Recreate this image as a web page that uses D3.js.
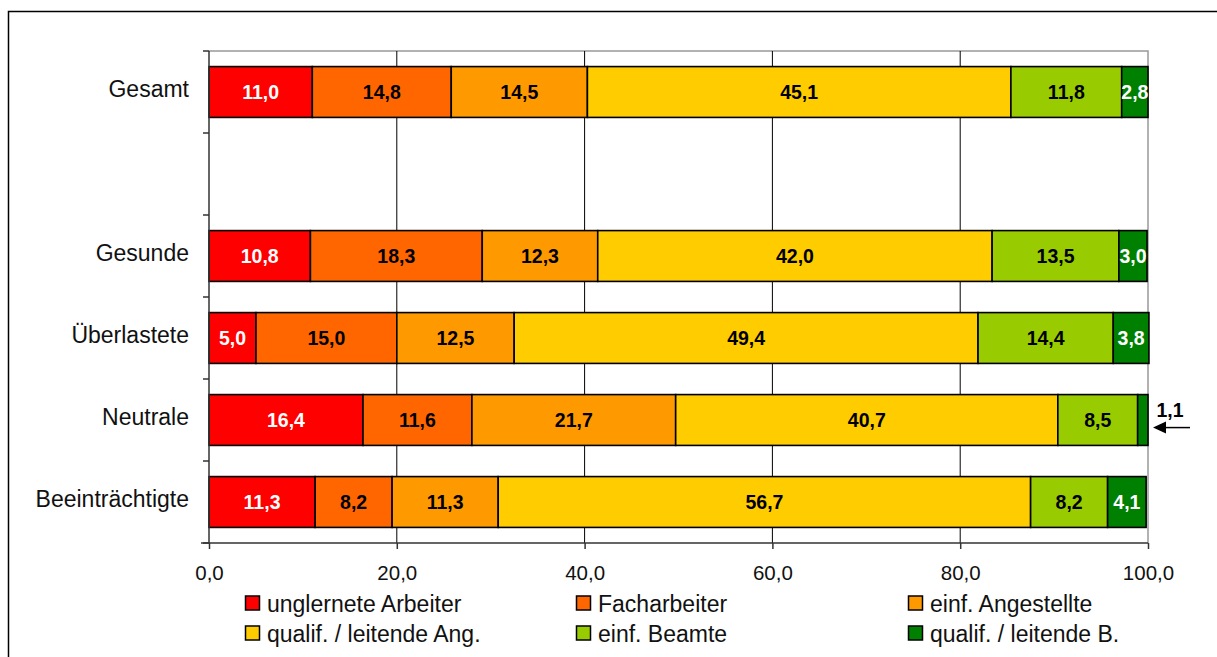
<!DOCTYPE html>
<html><head><meta charset="utf-8">
<script src="https://cdn.jsdelivr.net/npm/d3@7"></script>
<style>body{margin:0;background:#fff}svg{display:block;font-family:"Liberation Sans",Arial,sans-serif}</style>
</head><body><svg id="c" width="1217" height="657"></svg>
<script>
// Rows top to bottom; the blank row separates the total from the groups
const categories = ["Gesamt", "", "Gesunde", "Überlastete", "Neutrale", "Beeinträchtigte"];
const seriesNames = ["unglernete Arbeiter", "Facharbeiter", "einf. Angestellte", "qualif. / leitende Ang.", "einf. Beamte", "qualif. / leitende B."];
const seriesColors = ["#FF0000", "#FF6600", "#FF9900", "#FFCC00", "#99CC00", "#008000"];
const labelColors = ["#fff", "#000", "#000", "#000", "#000", "#fff"];
const values = {
  "Gesamt":          [11.0, 14.8, 14.5, 45.1, 11.8, 2.8],
  "Gesunde":         [10.8, 18.3, 12.3, 42.0, 13.5, 3.0],
  "Überlastete":     [5.0, 15.0, 12.5, 49.4, 14.4, 3.8],
  "Neutrale":        [16.4, 11.6, 21.7, 40.7, 8.5, 1.1],
  "Beeinträchtigte": [11.3, 8.2, 11.3, 56.7, 8.2, 4.1]
};
const xTicks = [0, 20, 40, 60, 80, 100];

const svg = d3.select("#c");
const fmt = v => d3.format(".1f")(v).replace(".", ",");

// outer frame
svg.append("rect").attr("x", 8.5).attr("y", 11.5).attr("width", 1220).attr("height", 660)
  .attr("fill", "none").attr("stroke", "#000").attr("stroke-width", 1.5);

const pLeft = 209, pRight = 1148, pTop = 51, pBottom = 543;
const x = d3.scaleLinear().domain([0, 100]).range([pLeft, pRight]);
const y = d3.scaleBand().domain(categories).range([pTop, pBottom]).paddingInner(0.38).paddingOuter(0.19);

// plot border (top and right in gray)
svg.append("path").attr("d", `M${pLeft},${pTop}H${pRight}V${pBottom}`)
  .attr("fill", "none").attr("stroke", "#999").attr("stroke-width", 1.5);

// vertical gridlines
svg.append("g").selectAll("line").data(xTicks.slice(1, -1)).join("line")
  .attr("x1", d => x(d)).attr("x2", d => x(d)).attr("y1", pTop).attr("y2", pBottom)
  .attr("stroke", "#000").attr("stroke-width", 1);

// stacked segments
const rows = categories.filter(c => values[c]).map(c => {
  let acc = 0;
  return values[c].map((v, i) => { const s = {cat: c, i, v, x0: acc, x1: acc + v}; acc += v; return s; });
});
const seg = svg.append("g").selectAll("g").data(rows.flat()).join("g");
seg.append("rect")
  .attr("x", d => x(d.x0)).attr("width", d => x(d.x1) - x(d.x0))
  .attr("y", d => y(d.cat)).attr("height", y.bandwidth())
  .attr("fill", d => seriesColors[d.i]).attr("stroke", "#000").attr("stroke-width", 1.6);
seg.filter(d => d.v >= 2).append("text")
  .attr("x", d => (x(d.x0) + x(d.x1)) / 2).attr("y", d => y(d.cat) + y.bandwidth() / 2)
  .attr("dy", "0.36em").attr("text-anchor", "middle")
  .attr("font-size", 19.5).attr("font-weight", "bold")
  .attr("fill", d => labelColors[d.i]).text(d => fmt(d.v));

// small segment labelled outside with an arrow
const small = rows.flat().filter(d => d.v < 2);
const outside = svg.append("g").selectAll("g").data(small).join("g");
outside.append("text")
  .attr("x", d => x(d.x1) + 22).attr("y", d => y(d.cat) + 22)
  .attr("text-anchor", "middle").attr("font-size", 19.5).attr("font-weight", "bold")
  .text(d => fmt(d.v));
outside.append("line")
  .attr("x1", d => x(d.x1) + 42).attr("x2", d => x(d.x1) + 10)
  .attr("y1", d => y(d.cat) + 33).attr("y2", d => y(d.cat) + 33)
  .attr("stroke", "#000").attr("stroke-width", 1.5);
outside.append("path")
  .attr("d", d => { const ax = x(d.x1) + 5, ay = y(d.cat) + 33; return `M${ax},${ay}l13,-6v12z`; })
  .attr("fill", "#000");

// y axis
const yTickPos = d3.range(categories.length + 1).map(i => pTop + i * (pBottom - pTop) / categories.length);
svg.append("line").attr("x1", pLeft).attr("x2", pLeft).attr("y1", pTop).attr("y2", pBottom)
  .attr("stroke", "#333").attr("stroke-width", 1.5);
svg.append("g").selectAll("line").data(yTickPos).join("line")
  .attr("x1", pLeft - 6).attr("x2", pLeft).attr("y1", d => d).attr("y2", d => d)
  .attr("stroke", "#333").attr("stroke-width", 1.5);
svg.append("g").selectAll("text").data(categories).join("text")
  .attr("x", pLeft - 20).attr("y", d => y(d) + y.bandwidth() / 2 - 3).attr("dy", "0.36em")
  .attr("text-anchor", "end").attr("font-size", 23).attr("fill", "#111").text(d => d);

// x axis
const xAxis = svg.append("g").attr("transform", `translate(0,${pBottom})`)
  .call(d3.axisBottom(x).tickValues(xTicks).tickFormat(fmt).tickSize(6).tickSizeOuter(0));
xAxis.select(".domain").attr("stroke", "#333").attr("stroke-width", 1.5).attr("d", `M${pLeft - 8},0H${pRight}`);
xAxis.selectAll(".tick line").attr("stroke", "#333").attr("stroke-width", 1.5);
xAxis.selectAll(".tick text").attr("font-size", 20.5).attr("fill", "#111").attr("y", 22.5)
  .attr("font-family", "'Liberation Sans',Arial,sans-serif");

// legend
const legX = [245, 576, 908], legY = [603.5, 633.5];
const leg = svg.append("g").selectAll("g").data(seriesNames).join("g")
  .attr("transform", (d, i) => `translate(${legX[i % 3]},${legY[Math.floor(i / 3)]})`);
leg.append("rect").attr("x", 0.5).attr("y", -7.5).attr("width", 14).attr("height", 14)
  .attr("fill", (d, i) => seriesColors[i]).attr("stroke", "#000").attr("stroke-width", 1.5);
leg.append("text").attr("x", 22).attr("dy", "0.36em").attr("font-size", 23).attr("fill", "#111").text(d => d);
</script></body></html>
